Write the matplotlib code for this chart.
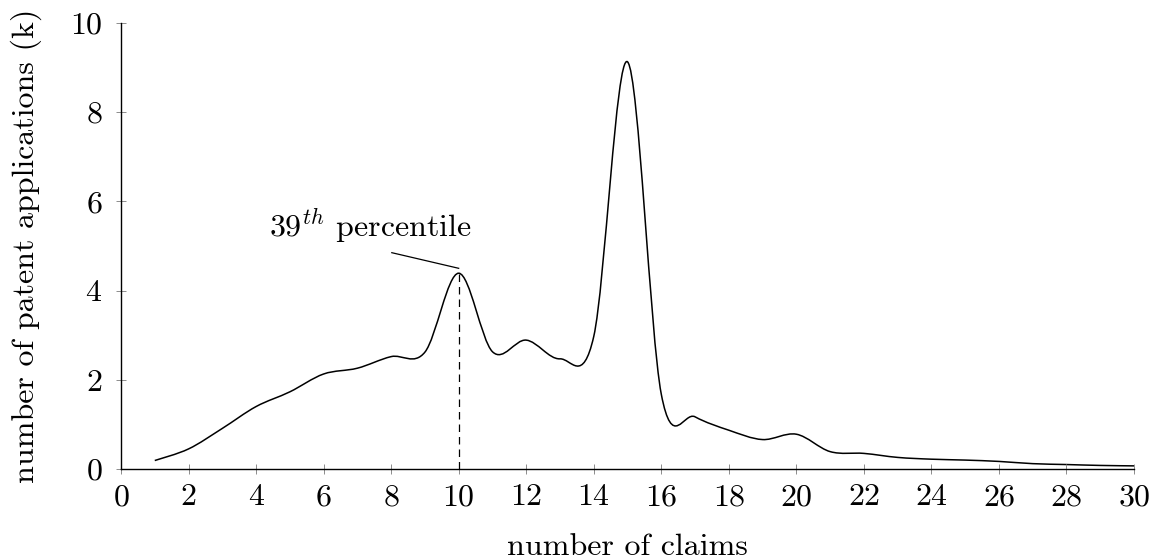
import numpy as np
import matplotlib
matplotlib.use("Agg")
import matplotlib.pyplot as plt
from matplotlib.path import Path
from matplotlib.patches import PathPatch

plt.rcParams['font.family'] = ['cmr10', 'DejaVu Serif']
plt.rcParams['mathtext.fontset'] = 'cm'
plt.rcParams['axes.formatter.use_mathtext'] = True

# number of claims vs. number of patent applications (thousands)
claims = [1, 2, 3, 4, 5, 6, 7, 8, 9, 10, 11, 12, 13, 14, 15,
          16, 17, 18, 19, 20, 21, 22, 23, 24, 25, 26, 27, 28, 29, 30]
apps_k = [0.19, 0.45, 0.91, 1.40, 1.73, 2.13, 2.26, 2.52, 2.62, 4.39,
          2.63, 2.89, 2.47, 2.97, 9.13, 1.68, 1.17, 0.87, 0.66, 0.78,
          0.39, 0.35, 0.26, 0.22, 0.20, 0.17, 0.12, 0.10, 0.08, 0.07]
pct_claims = 10
pct_label = r"$39^{th}$ percentile"
xticks = list(range(0, 31, 2))
yticks = list(range(0, 11, 2))

FS = 23


def smooth_path(xs, ys, tension=1/6):
    # bezier through the points, like tikz "smooth"
    p = np.column_stack([xs, ys]).astype(float)
    n = len(p)
    verts = [p[0]]
    codes = [Path.MOVETO]
    for i in range(n - 1):
        prev_ = p[i - 1] if i > 0 else p[i]
        next2 = p[i + 2] if i + 2 < n else p[i + 1]
        c1 = p[i] + tension * (p[i + 1] - prev_)
        c2 = p[i + 1] - tension * (next2 - p[i])
        verts += [c1, c2, p[i + 1]]
        codes += [Path.CURVE4] * 3
    return Path(verts, codes)


fig = plt.figure(figsize=(11.5, 5.59), dpi=100)
ax = fig.add_axes([121/1150, 1 - 469/559, 1013/1150, 446/559])

ax.add_patch(PathPatch(smooth_path(claims, apps_k), fill=False,
                       edgecolor='black', lw=1.1))

peak = apps_k[claims.index(pct_claims)]
ax.plot([pct_claims, pct_claims], [0, peak], color='black', lw=0.9,
        dashes=(6, 4))
# pin line + label
ax.plot([8.02, pct_claims], [4.85, peak + 0.11], color='black', lw=0.9)
ax.text(7.4, 5.45, pct_label, ha='center', va='center', fontsize=FS)

ax.set_xlim(0, 30)
ax.set_ylim(0, 10)
ax.set_xticks(xticks)
ax.set_yticks(yticks)
ax.spines['top'].set_visible(False)
ax.spines['right'].set_visible(False)
for s in ('left', 'bottom'):
    ax.spines[s].set_linewidth(1.0)
ax.tick_params(direction='inout', length=7, width=0.7, color='0.55',
               labelsize=FS, pad=7)
ax.tick_params(axis='y', pad=10)

ax.set_xlabel("number of claims", fontsize=FS)
ax.set_ylabel("number of patent applications (k)", fontsize=FS)
ax.xaxis.set_label_coords(0.5, -0.145)
ax.yaxis.set_label_coords(-0.078, 0.5)

fig.savefig("out.png", dpi=100)
